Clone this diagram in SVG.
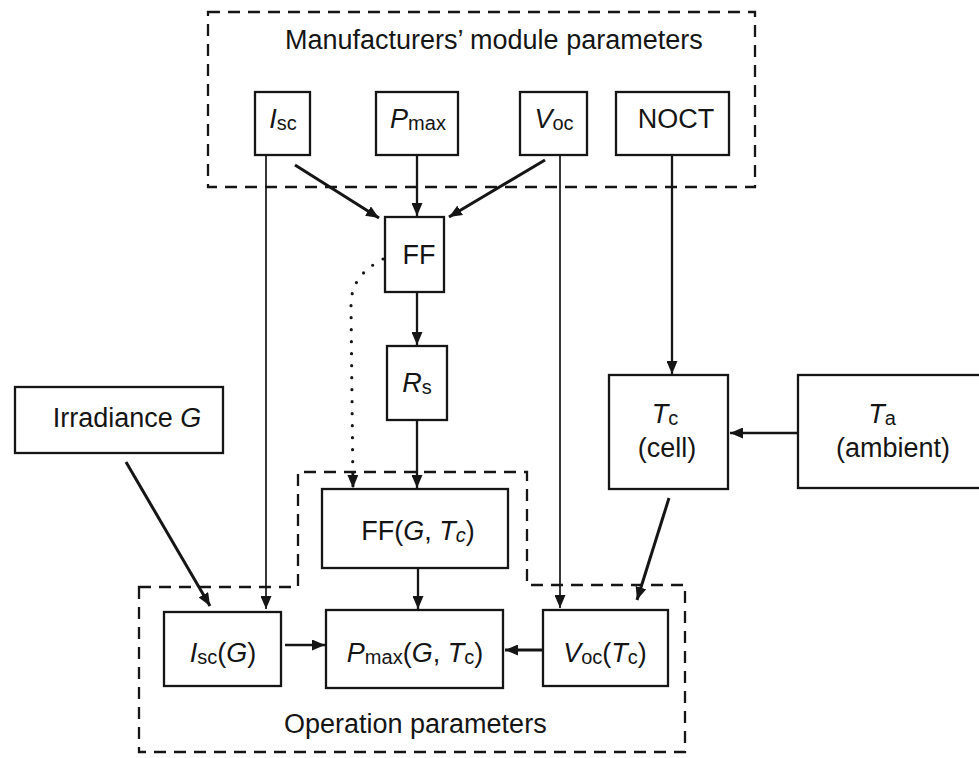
<svg xmlns="http://www.w3.org/2000/svg" width="979" height="758" viewBox="0 0 979 758">
  <style>
    .box { fill: #fff; stroke: #151515; stroke-width: 2.3; }
    .grp { fill: none; stroke: #151515; stroke-width: 2.3; stroke-dasharray: 12 8; }
    .lbl { font-family: "Liberation Sans", Arial, sans-serif; font-size: 27px; fill: #151515; text-anchor: middle; }
    .ttl { font-family: "Liberation Sans", Arial, sans-serif; font-size: 27px; fill: #151515; }
    .sub { font-size: 20px; }
    .wire { fill: none; stroke: #151515; stroke-width: 2.3; marker-end: url(#ah); }
    .thin { stroke-width: 1.7; }
    .thick { stroke-width: 3; }
    .dots { fill: none; stroke: #151515; stroke-width: 3.2; stroke-linecap: round; stroke-dasharray: 0 12; marker-end: url(#ah); }
  </style>
  <defs>
    <marker id="ah" viewBox="0 0 13 11" refX="13" refY="5.5" markerWidth="13" markerHeight="11" markerUnits="userSpaceOnUse" orient="auto">
      <path d="M0,0 L13,5.5 L0,11 Z" fill="#151515"/>
    </marker>
  </defs>
  <rect width="979" height="758" fill="#fff"/>

  <!-- group outlines -->
  <g id="group-manufacturer">
    <rect class="grp" x="208" y="12" width="547" height="175"/>
    <text class="ttl" x="285" y="49">Manufacturers’ module parameters</text>
  </g>
  <g id="group-operation">
    <path class="grp" d="M139,587 L298,587 L298,472 L527,472 L527,585 L685,585 L685,752 L139,752 Z"/>
    <text class="ttl" x="284" y="733">Operation parameters</text>
  </g>

  <!-- nodes -->
  <g id="node-isc">
    <rect class="box" x="255" y="92" width="55" height="63"/>
    <text class="lbl" x="283" y="128"><tspan font-style="italic">I</tspan><tspan class="sub" dy="2">sc</tspan></text>
  </g>
  <g id="node-pmax">
    <rect class="box" x="376" y="92" width="82" height="63"/>
    <text class="lbl" x="418" y="128"><tspan font-style="italic">P</tspan><tspan class="sub" dy="2">max</tspan></text>
  </g>
  <g id="node-voc">
    <rect class="box" x="520" y="92" width="67" height="63"/>
    <text class="lbl" x="554" y="128"><tspan font-style="italic">V</tspan><tspan class="sub" dy="2">oc</tspan></text>
  </g>
  <g id="node-noct">
    <rect class="box" x="616" y="92" width="113" height="63"/>
    <text class="lbl" x="676" y="128">NOCT</text>
  </g>
  <g id="node-ff">
    <rect class="box" x="385" y="217" width="59" height="75"/>
    <text class="lbl" x="419" y="264">FF</text>
  </g>
  <g id="node-rs">
    <rect class="box" x="387" y="346" width="60" height="74"/>
    <text class="lbl" x="417" y="392"><tspan font-style="italic">R</tspan><tspan class="sub" dy="2">s</tspan></text>
  </g>
  <g id="node-irradiance">
    <rect class="box" x="15" y="387" width="208" height="66"/>
    <text class="lbl" x="127" y="427">Irradiance <tspan font-style="italic">G</tspan></text>
  </g>
  <g id="node-tc">
    <rect class="box" x="609" y="375" width="119" height="114"/>
    <text class="lbl" x="665" y="423"><tspan font-style="italic">T</tspan><tspan class="sub" dy="2">c</tspan></text>
    <text class="lbl" x="667" y="457">(cell)</text>
  </g>
  <g id="node-ta">
    <rect class="box" x="798" y="375" width="200" height="113"/>
    <text class="lbl" x="882" y="423"><tspan font-style="italic">T</tspan><tspan class="sub" dy="2">a</tspan></text>
    <text class="lbl" x="893" y="457">(ambient)</text>
  </g>
  <g id="node-ffgt">
    <rect class="box" x="322" y="489" width="186" height="79"/>
    <text class="lbl" x="418" y="540">FF(<tspan font-style="italic">G</tspan>, <tspan font-style="italic">T</tspan><tspan class="sub" font-style="italic" dy="2">c</tspan><tspan dy="-2">)</tspan></text>
  </g>
  <g id="node-iscg">
    <rect class="box" x="164" y="612" width="117" height="74"/>
    <text class="lbl" x="223" y="662"><tspan font-style="italic">I</tspan><tspan class="sub" dy="2">sc</tspan><tspan dy="-2">(</tspan><tspan font-style="italic">G</tspan>)</text>
  </g>
  <g id="node-pmaxgt">
    <rect class="box" x="326" y="610" width="177" height="78"/>
    <text class="lbl" x="415" y="662"><tspan font-style="italic">P</tspan><tspan class="sub" dy="2">max</tspan><tspan dy="-2">(</tspan><tspan font-style="italic">G</tspan>, <tspan font-style="italic">T</tspan><tspan class="sub" dy="2">c</tspan><tspan dy="-2">)</tspan></text>
  </g>
  <g id="node-voct">
    <rect class="box" x="543" y="610" width="125" height="76"/>
    <text class="lbl" x="605" y="662"><tspan font-style="italic">V</tspan><tspan class="sub" dy="2">oc</tspan><tspan dy="-2">(</tspan><tspan font-style="italic">T</tspan><tspan class="sub" dy="2">c</tspan><tspan dy="-2">)</tspan></text>
  </g>

  <!-- connectors -->
  <g id="connectors">
    <path class="wire thick" d="M295,165 L379,218"/>
    <path class="wire" d="M417,155 L417,216"/>
    <path class="wire thick" d="M545,160 L449,217"/>
    <path class="wire thin" d="M266,155 L266,609"/>
    <path class="wire thin" d="M560,155 L560,608"/>
    <path class="wire" d="M672,155 L672,374"/>
    <path class="wire" d="M417,292 L417,345"/>
    <path class="wire" d="M417,420 L417,488"/>
    <path class="dots" d="M383,259 C362,270 351,284 351,305 L353,488"/>
    <path class="wire" d="M418,568 L418,609"/>
    <path class="wire thick" d="M126,462 L210,606"/>
    <path class="wire thick" d="M669,498 L637,600"/>
    <path class="wire" d="M798,433 L730,433"/>
    <path class="wire" d="M285,645 L325,645"/>
    <path class="wire thick" d="M543,650 L505,650"/>
  </g>
</svg>
